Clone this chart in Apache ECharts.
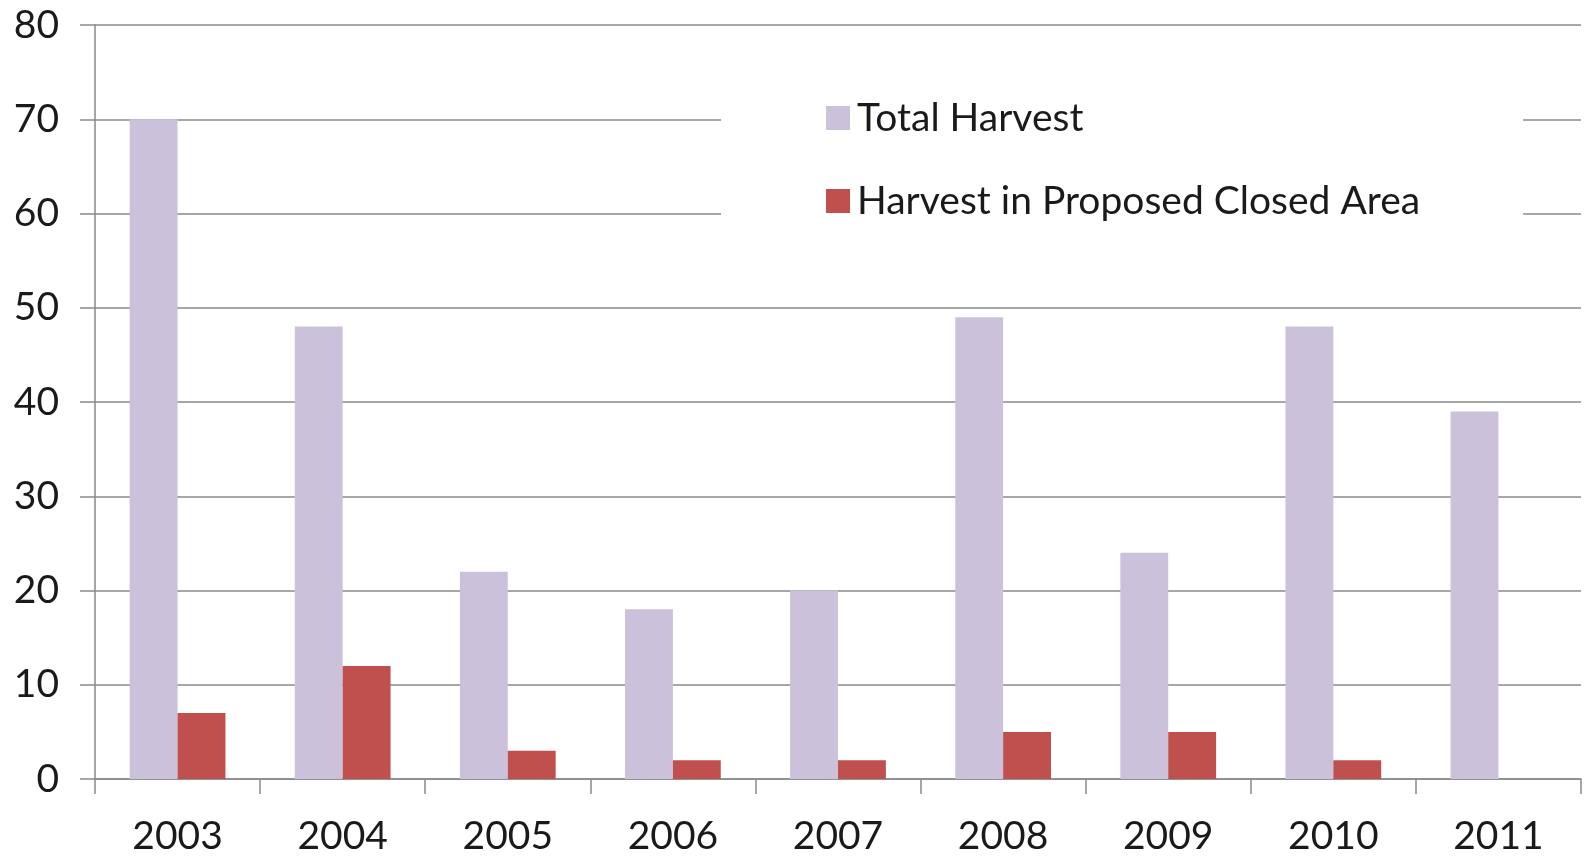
<!DOCTYPE html>
<html><head><meta charset="utf-8">
<script src="https://cdn.jsdelivr.net/npm/echarts@6/dist/echarts.min.js"></script>
<style>html,body{margin:0;padding:0;background:#fff}#c{width:1586px;height:856px}</style>
</head><body><div id="c"></div>
<script>
const years = ['2003','2004','2005','2006','2007','2008','2009','2010','2011'];
const totalHarvest = [70,48,22,18,20,49,24,48,39];
const closedAreaHarvest = [7,12,3,2,2,5,5,2,0];
const seriesNames = ['Total Harvest','Harvest in Proposed Closed Area'];
const FONT = 'Lato';
const lineCol = '#8a8a8a';
const chart = echarts.init(document.getElementById('c'), null, {renderer:'canvas'});
chart.setOption({
  animation:false,
  backgroundColor:'#fff',
  grid:{left:95,right:5,top:25,bottom:76,containLabel:false},
  legend:{
    orient:'vertical', left:721, top:70,
    padding:[28,103,28,105],
    backgroundColor:'#fff',
    itemWidth:24, itemHeight:24, itemGap:43,
    icon:'rect',
    textStyle:{fontFamily:FONT,fontSize:39,color:'#1a1a1a',lineHeight:40,padding:[0,0,0,2]},
    data:seriesNames
  },
  xAxis:{
    type:'category', data:years,
    axisLine:{lineStyle:{color:lineCol,width:1.5}},
    axisTick:{show:true,length:15,alignWithLabel:false,lineStyle:{color:lineCol,width:1.5}},
    axisLabel:{fontFamily:FONT,fontSize:39,color:'#1a1a1a',margin:38}
  },
  yAxis:{
    type:'value', min:0, max:80, interval:10,
    axisLine:{show:true,lineStyle:{color:lineCol,width:1.5}},
    axisTick:{show:true,length:15,lineStyle:{color:lineCol,width:1.5}},
    splitLine:{show:true,lineStyle:{color:lineCol,width:1.5}},
    axisLabel:{fontFamily:FONT,fontSize:39,color:'#1a1a1a',margin:36}
  },
  series:[
    {name:seriesNames[0],type:'bar',data:totalHarvest,barGap:'0%',barCategoryGap:'42%',
     itemStyle:{color:'#CCC1DA'},z:1},
    {name:seriesNames[1],type:'bar',data:closedAreaHarvest,barGap:'0%',barCategoryGap:'42%',
     itemStyle:{color:'#C0504D'},z:1}
  ]
});
</script></body></html>
